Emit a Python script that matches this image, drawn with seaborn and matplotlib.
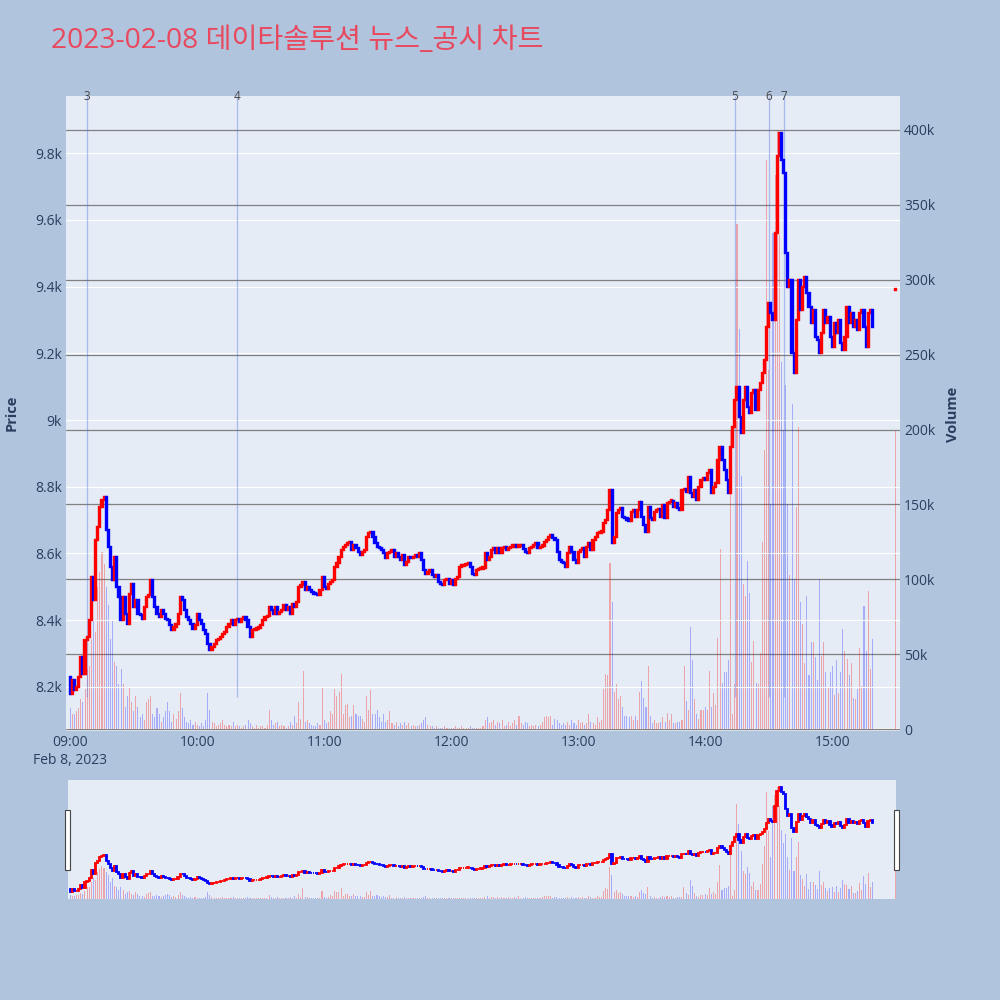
import numpy as np
import pandas as pd
import seaborn as sns
import matplotlib
matplotlib.use("Agg")
import matplotlib.pyplot as plt
import matplotlib.dates as mdates
import matplotlib.transforms as mtransforms
from matplotlib.patches import Rectangle
from matplotlib.ticker import FuncFormatter

# ---- minute closes (one list per hour) ----
open_first = 8230
close_09 = [8180, 8220, 8190, 8200, 8230, 8290, 8240, 8340, 8350, 8400,
            8530, 8460, 8640, 8680, 8740, 8760, 8770, 8670, 8620, 8560,
            8520, 8590, 8500, 8470, 8400, 8470, 8420, 8390, 8480, 8510,
            8440, 8460, 8420, 8415, 8405, 8440, 8470, 8475, 8520, 8470,
            8440, 8420, 8410, 8430, 8420, 8405, 8400, 8385, 8370, 8380,
            8390, 8420, 8470, 8460, 8430, 8410, 8400, 8390, 8375, 8385]
close_10 = [8420, 8400, 8390, 8370, 8360, 8330, 8310, 8320, 8330, 8340,
            8345, 8350, 8360, 8365, 8380, 8390, 8400, 8385, 8400, 8405,
            8395, 8405, 8410, 8400, 8380, 8350, 8370, 8372, 8375, 8378,
            8385, 8400, 8410, 8412, 8440, 8430, 8420, 8440, 8420, 8425,
            8430, 8445, 8430, 8440, 8420, 8450, 8440, 8455, 8500, 8505,
            8515, 8490, 8500, 8490, 8485, 8480, 8478, 8475, 8490, 8530]
close_11 = [8500, 8495, 8510, 8515, 8520, 8560, 8570, 8590, 8610, 8620,
            8625, 8630, 8635, 8610, 8625, 8615, 8605, 8595, 8605, 8610,
            8650, 8660, 8665, 8650, 8630, 8620, 8615, 8610, 8600, 8585,
            8600, 8605, 8610, 8590, 8600, 8590, 8580, 8595, 8565, 8575,
            8590, 8585, 8590, 8595, 8590, 8600, 8580, 8550, 8540, 8545,
            8550, 8535, 8530, 8535, 8515, 8510, 8505, 8520, 8525, 8510]
close_12 = [8520, 8505, 8525, 8530, 8560, 8562, 8565, 8568, 8570, 8560,
            8540, 8535, 8550, 8552, 8554, 8556, 8600, 8580, 8590, 8610,
            8615, 8600, 8615, 8600, 8615, 8620, 8610, 8615, 8620, 8620,
            8622, 8620, 8622, 8624, 8612, 8605, 8600, 8615, 8620, 8625,
            8630, 8615, 8620, 8622, 8635, 8640, 8650, 8655, 8645, 8640,
            8605, 8580, 8575, 8570, 8560, 8600, 8620, 8605, 8580, 8570]
close_13 = [8605, 8610, 8615, 8590, 8620, 8630, 8610, 8640, 8650, 8660,
            8662, 8665, 8690, 8700, 8730, 8790, 8630, 8650, 8720, 8730,
            8735, 8710, 8705, 8700, 8698, 8725, 8730, 8710, 8730, 8755,
            8710, 8685, 8665, 8740, 8705, 8700, 8725, 8730, 8732, 8710,
            8745, 8705, 8750, 8755, 8757, 8740, 8750, 8735, 8730, 8790,
            8792, 8785, 8830, 8780, 8770, 8790, 8760, 8800, 8820, 8825]
close_14 = [8820, 8840, 8850, 8780, 8800, 8810, 8880, 8920, 8880, 8850,
            8820, 8780, 8920, 8980, 9060, 9100, 9010, 8960, 9060, 9100,
            9040, 9020, 9080, 9090, 9030, 9090, 9110, 9140, 9180, 9280,
            9350, 9320, 9300, 9560, 9790, 9860, 9780, 9740, 9500, 9400,
            9420, 9200, 9140, 9300, 9420, 9330, 9400, 9430, 9380, 9340,
            9290, 9330, 9250, 9240, 9200, 9260, 9330, 9290, 9310, 9250,
            9220, 9290, 9260, 9300, 9230, 9210, 9250, 9340, 9290, 9320,
            9280, 9300, 9270, 9320, 9330, 9280, 9220, 9320, 9330, 9280]

# ---- minute volumes in thousands ----
vol_09 = [14, 10, 10, 12, 14, 20, 18, 27, 40, 42, 60, 72, 65, 95, 105, 118, 110, 95, 83, 60,
          73, 45, 42, 30, 40, 30, 15, 22, 28, 18, 12, 22, 15, 8, 10, 6, 18, 20, 22, 10,
          8, 14, 10, 5, 8, 12, 18, 12, 5, 10, 7, 12, 24, 14, 8, 5, 4, 6, 3, 5]
vol_10 = [3, 2, 4, 2, 6, 24, 13, 5, 4, 2, 3, 4, 6, 3, 2, 3, 2, 5, 2, 3,
          2, 1, 2, 3, 6, 4, 2, 1, 3, 1, 2, 2, 1, 3, 13, 6, 3, 4, 5, 2,
          3, 2, 1, 2, 5, 3, 9, 4, 18, 7, 39, 5, 6, 4, 3, 2, 2, 4, 3, 28]
vol_11 = [6, 4, 5, 12, 10, 27, 22, 25, 37, 10, 16, 17, 8, 9, 16, 10, 9, 9, 7, 5,
          22, 13, 26, 10, 10, 13, 8, 5, 10, 5, 6, 12, 4, 3, 5, 2, 4, 3, 5, 3,
          4, 2, 3, 2, 2, 3, 4, 6, 8, 3, 2, 2, 1, 2, 1, 1, 1, 2, 1, 1]
vol_12 = [1, 1, 2, 1, 1, 2, 1, 1, 1, 2, 1, 1, 1, 1, 1, 2, 6, 8, 4, 5,
          6, 3, 5, 4, 6, 2, 3, 5, 2, 4, 6, 3, 9, 4, 3, 5, 4, 2, 3, 2,
          3, 2, 3, 5, 8, 9, 8, 9, 3, 7, 6, 4, 3, 4, 3, 5, 3, 6, 4, 3]
vol_13 = [6, 4, 5, 3, 4, 10, 5, 4, 3, 8, 5, 6, 27, 37, 36, 111, 85, 25, 30, 20,
          22, 15, 9, 9, 8, 9, 6, 9, 6, 25, 32, 21, 15, 42, 9, 4, 6, 4, 4, 5,
          8, 5, 11, 6, 10, 4, 4, 5, 5, 6, 42, 19, 13, 68, 46, 20, 10, 7, 13, 13]
vol_14 = [15, 13, 39, 15, 24, 16, 61, 120, 31, 38, 38, 46, 200, 10, 30, 337, 267, 169, 97, 89,
          112, 91, 45, 59, 31, 30, 51, 125, 186, 380, 240, 150, 331, 370, 399, 330, 245, 200, 230, 150,
          103, 217, 100, 148, 202, 85, 70, 44, 89, 36, 58, 58, 48, 33, 100, 49, 58, 38, 28, 38,
          42, 23, 46, 24, 38, 67, 52, 47, 36, 44, 21, 20, 27, 54, 29, 82, 52, 92, 40, 60]

# closing auction (15:30)
close_auction = 9390
vol_auction = 199

news_times = ["09:08", "10:19", "14:14", "14:30", "14:37"]
news_labels = ["3", "4", "5", "6", "7"]

title = "2023-02-08 데이타솔루션 뉴스_공시 차트"

# ---- build frame ----
closes = np.array(close_09 + close_10 + close_11 + close_12 + close_13 + close_14, dtype=float)
vols = np.array(vol_09 + vol_10 + vol_11 + vol_12 + vol_13 + vol_14, dtype=float) * 1000
opens = np.r_[open_first, closes[:-1]]
times = pd.date_range("2023-02-08 09:00", periods=len(closes), freq="min")

df = pd.DataFrame({"time": times, "open": opens, "close": closes, "volume": vols})
auction = pd.DataFrame({"time": [pd.Timestamp("2023-02-08 15:30")], "open": [close_auction],
                        "close": [close_auction], "volume": [vol_auction * 1000]})
df = pd.concat([df, auction], ignore_index=True)
df["x"] = mdates.date2num(df["time"])
df["up"] = df["close"] >= df["open"]

RED, BLUE = "#ff0000", "#0000ff"
BG = "#e5ecf6"
TXT = "#2a3f5f"
MIN = 1 / 1440

sns.set_theme(style="white", rc={"axes.facecolor": BG})
plt.rcParams["font.family"] = ["Open Sans", "Noto Sans CJK KR", "DejaVu Sans"]


def draw(axp, axv, lw):
    col = np.where(df["up"], RED, BLUE)
    vcol = [(1, 0, 0, 0.3) if u else (0, 0, 1, 0.27) for u in df["up"]]
    axv.bar(df["x"], df["volume"], width=0.5 * MIN, color=vcol, linewidth=0)
    lo = np.minimum(df["open"], df["close"])
    hi = np.maximum(df["open"], df["close"])
    # flat candles still get a visible body
    height = np.maximum(hi - lo, 4)
    axp.bar(df["x"], height, bottom=lo, width=0.55 * MIN, color=col,
            edgecolor=col, linewidth=lw, zorder=3)


fig = plt.figure(figsize=(10, 10), dpi=100, facecolor="#b0c4de")
ax = fig.add_axes([0.066, 0.269, 0.834, 0.635])
ax2 = ax.twinx()
ax.set_zorder(ax2.get_zorder() + 1)
ax.patch.set_visible(False)
ax2.patch.set_visible(True)
ax2.set_facecolor(BG)

draw(ax, ax2, 1.7)

P_LIM = (8068, 9971)
V_LIM = (-1300, 422700)
ax.set_ylim(*P_LIM)
ax2.set_ylim(*V_LIM)
x0 = mdates.date2num(pd.Timestamp("2023-02-08 08:58"))
x1 = mdates.date2num(pd.Timestamp("2023-02-08 15:32"))
ax.set_xlim(x0, x1)

ax.set_yticks(np.arange(8200, 9801, 200))
ax.yaxis.set_major_formatter(FuncFormatter(lambda v, p: f"{v / 1000:g}k"))
ax2.set_yticks(np.arange(0, 400001, 50000))
ax2.yaxis.set_major_formatter(FuncFormatter(lambda v, p: "0" if v == 0 else f"{v / 1000:g}k"))

hours = pd.date_range("2023-02-08 09:00", "2023-02-08 15:00", freq="h")
ax.set_xticks(mdates.date2num(hours))
ax.set_xticklabels([h.strftime("%H:%M") + ("\nFeb 8, 2023" if i == 0 else "")
                    for i, h in enumerate(hours)], linespacing=1.25)

ax.grid(axis="y", color="white", linewidth=0.8)
ax.grid(axis="x", visible=False)
ax2.grid(axis="y", color="#808080", linewidth=0.9)
ax2.grid(axis="x", visible=False)
ax2.axhline(0, color="white", linewidth=1.5, zorder=0)
ax.set_axisbelow(True)
ax2.set_axisbelow(True)

for a in (ax, ax2):
    a.tick_params(length=0, labelsize=10, labelcolor=TXT, pad=3)
    for s in a.spines.values():
        s.set_visible(False)

# news markers
low = min(df["open"].min(), df["close"].min()) - 10
trans = mtransforms.blended_transform_factory(ax.transData, ax.transAxes)
for t, lab in zip(news_times, news_labels):
    xt = mdates.date2num(pd.Timestamp("2023-02-08 " + t))
    ax.vlines(xt, low, P_LIM[1], color="#4169e1", alpha=0.38, linewidth=0.9, zorder=2)
    ax.text(xt, 1.0, lab, transform=trans, ha="center", va="center",
            fontsize=8.5, color="#444444", clip_on=False)

fig.text(0.012, 0.587, "Price", rotation=90, ha="center", va="center",
         fontsize=10.5, fontweight="bold", color=TXT)
fig.text(0.953, 0.586, "Volume", rotation=90, ha="center", va="center",
         fontsize=10.5, fontweight="bold", color=TXT)
fig.text(0.051, 0.959, title, ha="left", va="center", fontsize=20.3, color="#e8495e")

# range slider
axs = fig.add_axes([0.068, 0.101, 0.828, 0.119])
axs2 = axs.twinx()
axs.set_zorder(axs2.get_zorder() + 1)
axs.patch.set_visible(False)
axs2.patch.set_visible(True)
axs2.set_facecolor(BG)
draw(axs, axs2, 1.3)
axs.set_ylim(*P_LIM)
axs2.set_ylim(*V_LIM)
axs.set_xlim(mdates.date2num(pd.Timestamp("2023-02-08 08:59")),
             mdates.date2num(pd.Timestamp("2023-02-08 15:30:12")))
for a in (axs, axs2):
    a.set_xticks([])
    a.set_yticks([])
    a.grid(False)
    for s in a.spines.values():
        s.set_visible(False)

for hx in (0.065, 0.894):
    fig.patches.append(Rectangle((hx, 0.130), 0.005, 0.060, transform=fig.transFigure,
                                 facecolor="white", edgecolor="#444444", linewidth=0.8))

fig.savefig("out.png", dpi=100, facecolor=fig.get_facecolor())
